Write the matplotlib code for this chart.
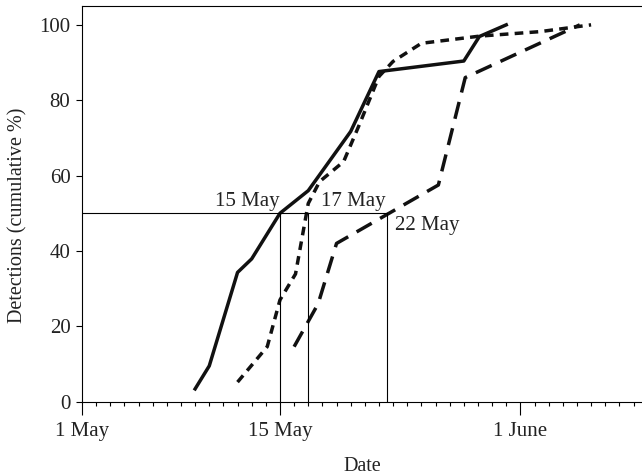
import matplotlib
matplotlib.use('Agg')
import matplotlib.pyplot as plt
from matplotlib.ticker import FixedLocator

plt.rcParams['font.family'] = ['Liberation Serif', 'DejaVu Serif']

# days counted from 1 May (0 = 1 May)
solid_days = [8, 9, 11, 12, 14, 16, 19, 21, 27, 28.1, 30]
solid_pct = [3.4, 9.5, 34.3, 37.9, 50, 56, 71.7, 87.6, 90.4, 96.9, 100]

dotted_days = [11, 13.1, 14, 15.1, 16, 16.8, 18.5, 19.6, 21, 22, 24, 28.1, 32.4, 36]
dotted_pct = [5.2, 14.6, 27, 33.9, 52.6, 58.4, 63.7, 73.4, 86.3, 90.3, 95.1, 97.0, 98.2, 100]

dashed_days = [15, 16.7, 18, 25.2, 27.1, 35.2]
dashed_pct = [14.6, 26, 42, 57.5, 86, 100]

# dates at which each curve reaches 50 %
cross_days = [14.0, 15.95, 21.55]
cross_labels = ['15 May', '17 May', '22 May']
half = 50

tick_days = [0, 14, 31]
tick_labels = ['1 May', '15 May', '1 June']

fig = plt.figure(figsize=(6.42, 4.76), dpi=100)
ax = fig.add_axes([0.1277, 0.1561, 0.8723, 0.8313])

lw = 2.5
ax.plot(solid_days, solid_pct, color='#111111', lw=lw)
ax.plot(dotted_days, dotted_pct, color='#111111', lw=lw, dashes=(2.5, 1.8))
ax.plot(dashed_days, dashed_pct, color='#111111', lw=lw, dashes=(5.0, 2.8))

# 50 % reference lines
ax.plot([0, max(cross_days)], [half, half], color='black', lw=0.8)
for d in cross_days:
    ax.plot([d, d], [0, half], color='black', lw=0.8)

fs = 15
ax.text(cross_days[0] - 0.05, half + 0.6, cross_labels[0], fontsize=fs,
        ha='right', va='bottom', color='#222222')
ax.text(cross_days[1] + 0.95, half + 0.6, cross_labels[1], fontsize=fs,
        ha='left', va='bottom', color='#222222')
ax.text(cross_days[2] + 0.55, half - 0.6, cross_labels[2], fontsize=fs,
        ha='left', va='top', color='#222222')

ax.set_xlim(0, 39.6)
ax.set_ylim(0, 105)
ax.set_yticks([0, 20, 40, 60, 80, 100])
ax.set_xticks(tick_days)
ax.set_xticklabels(tick_labels)
ax.xaxis.set_minor_locator(FixedLocator([d for d in range(1, 40) if d not in tick_days]))

ax.tick_params(axis='y', direction='out', length=4.3, width=0.8, labelsize=fs,
               pad=4, labelcolor='#222222')
ax.tick_params(axis='x', which='major', direction='out', length=9.6, width=0.8,
               labelsize=fs, pad=5, labelcolor='#222222')
ax.tick_params(axis='x', which='minor', direction='out', length=3, width=0.8)

ax.spines['right'].set_visible(False)
for s in ['left', 'bottom', 'top']:
    ax.spines[s].set_linewidth(0.8)

ax.set_xlabel('Date', fontsize=14.5, color='#222222')
ax.set_ylabel('Detections (cumulative %)', fontsize=14.5, color='#222222')
ax.xaxis.set_label_coords(0.5, -0.14)
ax.yaxis.set_label_coords(-0.098, 0.47)

fig.savefig('out.png', dpi=100)
